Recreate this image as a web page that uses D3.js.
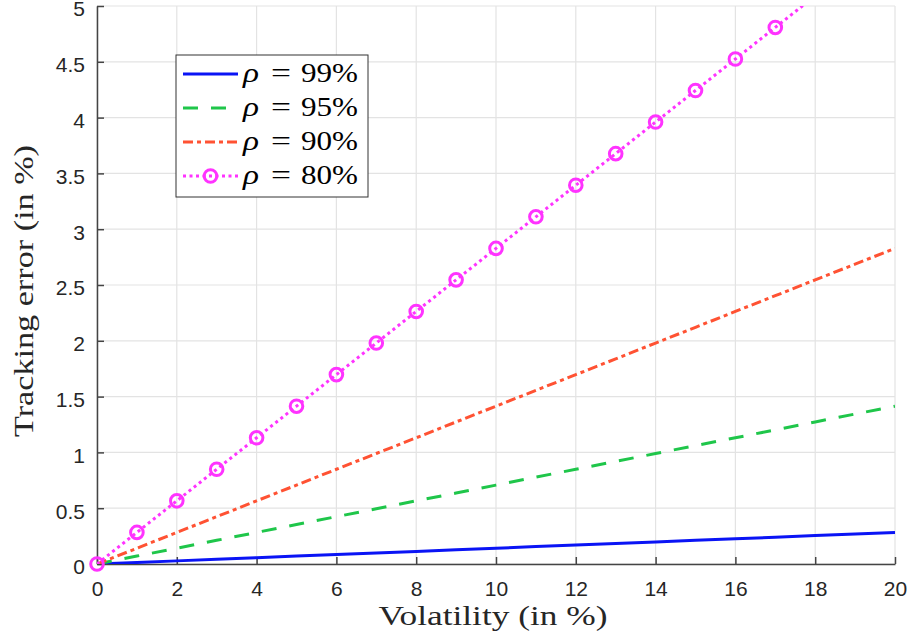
<!DOCTYPE html>
<html><head><meta charset="utf-8">
<script src="https://cdn.jsdelivr.net/npm/d3@7"></script>
<style>body{margin:0;background:#fff;} svg{display:block;}</style>
</head><body>
<svg id="chart" width="913" height="641"></svg>
<script>
const volatility = [0,1,2,3,4,5,6,7,8,9,10,11,12,13,14,15,16,17,18,19,20];
const rho99 = [0,0.014,0.028,0.042,0.057,0.071,0.085,0.099,0.113,0.127,0.141,0.156,0.170,0.184,0.198,0.212,0.226,0.240,0.255,0.269,0.283];
const rho95 = [0,0.071,0.141,0.212,0.283,0.354,0.424,0.495,0.566,0.636,0.707,0.778,0.849,0.919,0.990,1.061,1.131,1.202,1.273,1.344,1.414];
const rho90 = [0,0.141,0.283,0.424,0.566,0.707,0.849,0.990,1.131,1.273,1.414,1.556,1.697,1.838,1.980,2.121,2.263,2.404,2.546,2.687,2.828];
const rho80 = [0,0.283,0.566,0.849,1.131,1.414,1.697,1.980,2.263,2.546,2.828,3.111,3.394,3.677,3.960,4.243,4.525,4.808,5.091,5.374,5.657];
const seriesLabels = ["99%","95%","90%","80%"];
const xTicks = [0,2,4,6,8,10,12,14,16,18,20];
const yTicks = [0,0.5,1,1.5,2,2.5,3,3.5,4,4.5,5];

const svg = d3.select("#chart");
const L = 97, R = 895, T = 6, B = 564;
const x = d3.scaleLinear().domain([0,20]).range([L,R]);
const y = d3.scaleLinear().domain([0,5]).range([B,T]);

// grid
const g = svg.append("g");
g.selectAll(".vg").data(xTicks).join("line")
  .attr("x1",d=>x(d)).attr("x2",d=>x(d)).attr("y1",T).attr("y2",B)
  .attr("stroke","#e3e3e3").attr("stroke-width",1.2);
g.selectAll(".hg").data(yTicks).join("line")
  .attr("x1",L).attr("x2",R).attr("y1",d=>y(d)).attr("y2",d=>y(d))
  .attr("stroke","#e3e3e3").attr("stroke-width",1.2);

// axes
const fontTick = "'Liberation Sans', Arial, sans-serif";
const xAxis = d3.axisBottom(x).tickValues(xTicks).tickSizeInner(-7).tickSizeOuter(0).tickPadding(17).tickFormat(d3.format("d"));
const yAxis = d3.axisLeft(y).tickValues(yTicks).tickSizeInner(-7).tickSizeOuter(0).tickPadding(12).tickFormat(d=>String(d));
const gx = svg.append("g").attr("transform",`translate(0,${B})`).call(xAxis);
const gy = svg.append("g").attr("transform",`translate(${L},0)`).call(yAxis);
[gx,gy].forEach(a=>{
  a.select(".domain").attr("stroke","#444").attr("stroke-width",1.5);
  a.selectAll(".tick line").attr("stroke","#444").attr("stroke-width",1.5);
  a.selectAll(".tick text").attr("fill","#262626").style("font-family",fontTick).style("font-size","21px");
});
gy.selectAll(".tick text").attr("dy","0.47em");

// clip
svg.append("clipPath").attr("id","clip").append("rect").attr("x",L).attr("y",T).attr("width",R-L).attr("height",B-T);

const series = [
  {vals:rho99, color:"#0a14f5", dash:null, marker:false},
  {vals:rho95, color:"#1fc64a", dash:"15,13", marker:false},
  {vals:rho90, color:"#ff5233", dash:"10,4,4,4", marker:false},
  {vals:rho80, color:"#ff33ff", dash:"3,3.5", marker:true}
];
const line = d3.line().x((d,i)=>x(volatility[i])).y(d=>y(d));
const plot = svg.append("g").attr("clip-path","url(#clip)");
series.forEach(s=>{
  plot.append("path").datum(s.vals).attr("d",line)
    .attr("fill","none").attr("stroke",s.color).attr("stroke-width",3)
    .attr("stroke-dasharray",s.dash);
});
const s80 = series[3];
svg.append("g").selectAll("circle")
  .data(s80.vals.map((v,i)=>({x:volatility[i],y:v})).filter(d=>d.y<=5))
  .join("circle").attr("cx",d=>x(d.x)).attr("cy",d=>y(d.y)).attr("r",6.3)
  .attr("fill","none").attr("stroke",s80.color).attr("stroke-width",3);

// axis labels
const fontSerif = "'Liberation Serif','Times New Roman',serif";
svg.append("text").attr("x",493).attr("y",625).attr("text-anchor","middle")
  .style("font-family",fontSerif).style("font-size","28px").attr("fill","#262626")
  .attr("textLength",229).attr("lengthAdjust","spacingAndGlyphs")
  .text("Volatility (in %)");
svg.append("text").attr("transform",`translate(33,291) rotate(-90)`).attr("text-anchor","middle")
  .style("font-family",fontSerif).style("font-size","28px").attr("fill","#262626")
  .attr("textLength",292).attr("lengthAdjust","spacingAndGlyphs")
  .text("Tracking error (in %)");

// legend
const lg = svg.append("g");
lg.append("rect").attr("x",176).attr("y",55).attr("width",192).attr("height",142)
  .attr("fill","#fff").attr("stroke","#333").attr("stroke-width",1);
series.forEach((s,i)=>{
  const yy = 74 + i*34;
  lg.append("line").attr("x1",183).attr("x2",238).attr("y1",yy).attr("y2",yy)
    .attr("stroke",s.color).attr("stroke-width",3).attr("stroke-dasharray",s.dash);
  if(s.marker) lg.append("circle").attr("cx",210.5).attr("cy",yy).attr("r",6.3)
    .attr("fill","none").attr("stroke",s.color).attr("stroke-width",3);
  const base = yy + 8;
  lg.append("text").attr("x",243).attr("y",base).style("font-family",fontSerif)
    .style("font-size","28px").style("font-style","italic").attr("fill","#000")
    .attr("textLength",16).attr("lengthAdjust","spacingAndGlyphs").text("ρ");
  lg.append("text").attr("x",281).attr("y",base).attr("text-anchor","middle").style("font-family",fontSerif)
    .style("font-size","28px").attr("fill","#000")
    .attr("textLength",20).attr("lengthAdjust","spacingAndGlyphs").text("=");
  lg.append("text").attr("x",301).attr("y",base).style("font-family",fontSerif)
    .style("font-size","28px").attr("fill","#000")
    .attr("textLength",57).attr("lengthAdjust","spacingAndGlyphs").text(seriesLabels[i]);
});
</script>
</body></html>
